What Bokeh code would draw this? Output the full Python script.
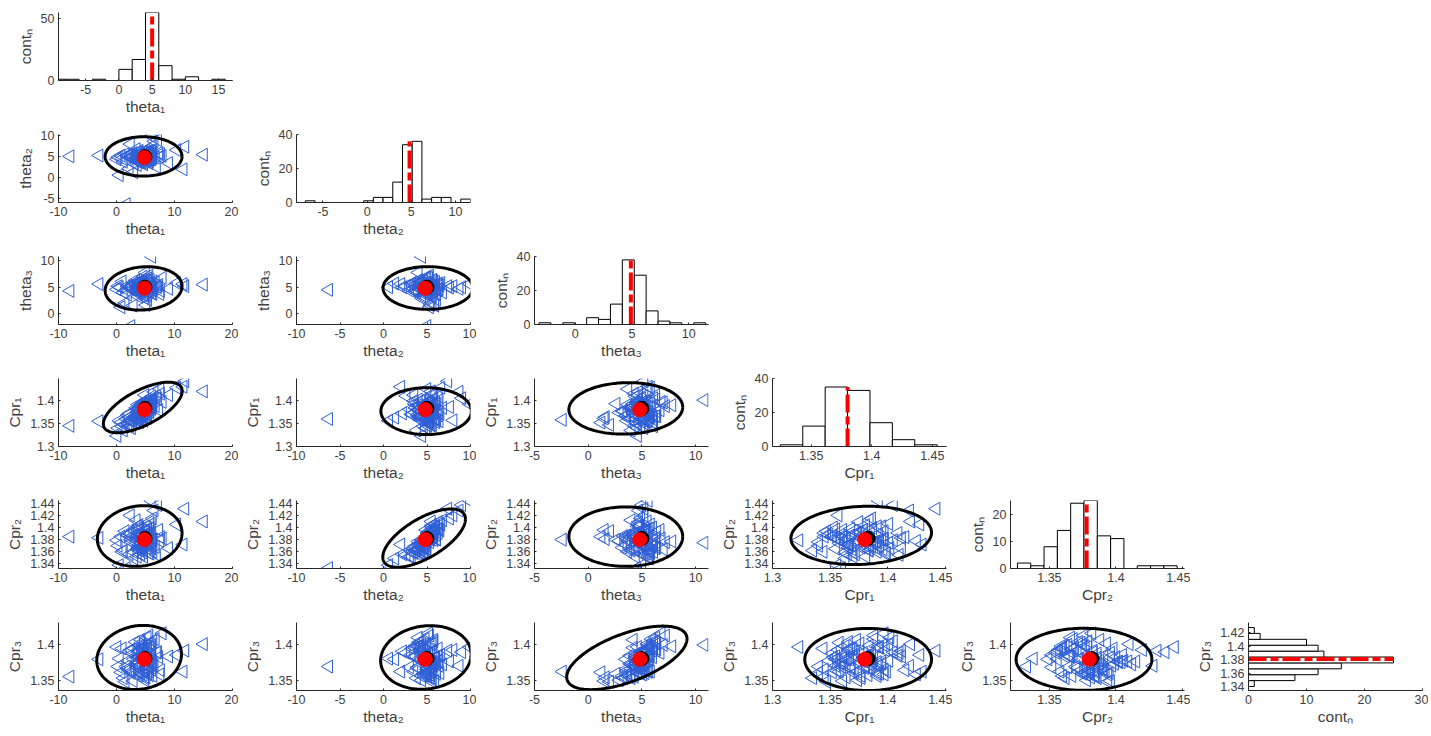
import numpy as np
from bokeh.plotting import figure
from bokeh.layouts import gridplot
from bokeh.models import Range1d, FixedTicker, CustomJSTickFormatter
from bokeh.embed import file_html
from bokeh.resources import INLINE

# ---------------- data ----------------
names = ["theta\u2081", "theta\u2082", "theta\u2083", "Cpr\u2081", "Cpr\u2082", "Cpr\u2083"]
count_label = "cont\u2099"

theta1 = [5.0, 4.4, 5.6, 3.9, 6.1, 4.7, 5.4, 4.2, 5.8, 3.7, 5.3, 4.9, 6.0, 4.0, 5.1, 4.6, 5.7, 4.3, 6.3, 3.6,
          5.4, 4.7, 5.8, 3.9, 5.0, 4.4, 5.6, 4.2, 6.1, 4.9, 5.3, 4.6, 5.7, 4.0, 6.3, 3.7, 6.0, 4.3, 5.1, 4.7,
          5.4, 4.4, 5.8, 3.6, 5.6, 4.2, 5.0, 3.9, 6.1, 4.9, 5.3, 4.6, 5.7, 4.0, 5.1,
          3.5, 2.8, 3.1, 2.3, 3.8, 2.5, 3.3, 2.0, 3.6, 2.9, 3.9, 2.2, 3.4, 2.6, 3.0, 3.7, 2.4,
          0.3, 1.7, 0.8, 1.2, 0.1, 1.5, 0.5, 1.9, 1.0,
          6.3, 7.1, 6.7, 7.6, 6.1, 7.3, 6.5, 7.9, 6.9, 6.2, 7.5, 6.0,
          -8.0, -3.0, 15.0, 11.8, 11.5, 10.4, 9.0]
theta2 = [5.3, 4.9, 5.8, 4.3, 5.0, 3.7, 6.3, 4.6, 5.7, 6.1, 4.0, 5.6, 4.4, 5.1, 6.0, 4.2, 5.4, 4.7, 5.8, 3.9,
          4.9, 6.1, 4.3, 5.6, 6.5, 3.6, 5.3, 4.0, 6.3, 4.4, 5.7, 5.0, 3.9, 6.0, 4.7, 5.4, 6.4, 4.2, 5.1, 3.2,
          6.1, 4.6, 5.6, 4.9, 3.5, 5.8, 4.0, 6.4, 5.0, 5.7, 4.4, 5.3, 6.3, 3.7, 5.4,
          4.8, 5.2, 3.3, 5.6, 4.4, 5.0, 4.1, 5.4, 3.0, 5.9, 4.6, 2.2, 6.8, 4.9, 1.3, 5.5, 8.0,
          4.9, -6.3, 5.3, 3.8, 4.4, 5.6, 0.6, 5.1, 4.6,
          5.4, 9.0, 4.8, 5.7, 4.4, 5.9, 8.7, 5.2, 2.6, 7.6, 5.0, 9.9,
          5.1, 5.3, 5.5, 7.4, 2.0, 6.6, 3.5]
theta3 = [4.7, 5.4, 4.2, 6.0, 5.1, 4.4, 5.7, 4.9, 6.4, 3.9, 6.3, 3.3, 5.3, 5.6, 4.6, 5.8, 4.0, 5.0, 6.1, 4.3,
          6.7, 3.6, 5.4, 4.7, 5.3, 4.2, 7.2, 5.7, 4.4, 2.9, 5.0, 7.0, 4.9, 6.0, 3.7, 5.1, 4.6, 6.1, 4.0, 5.6,
          2.6, 6.4, 5.3, 4.4, 5.8, 4.2, 7.8, 5.4, 3.9, 6.3, 3.5, 5.1, 4.7, 5.6, 1.6,
          5.1, 4.5, 5.8, 4.9, 3.2, -2.4, 6.3, 5.3, 4.4, 1.5, 5.6, 5.0, 4.0, 4.6, 5.7, 4.8, 5.2,
          5.2, 4.5, 1.2, 4.0, 4.6, 2.0, 5.0, 3.6, 6.1,
          4.5, 5.0, 5.9, 4.3, 10.8, 5.4, 4.7, 6.8, 5.2, 4.9, 3.7, 5.6,
          4.3, 5.6, 5.5, 5.2, 5.6, 5.8, 4.7]
cpr1 = [1.381, 1.372, 1.392, 1.366, 1.397, 1.384, 1.368, 1.391, 1.376, 1.359, 1.402, 1.377, 1.386, 1.374, 1.395,
        1.363, 1.383, 1.388, 1.405, 1.369, 1.379, 1.356, 1.398, 1.381, 1.371, 1.393, 1.388, 1.365, 1.409, 1.374,
        1.362, 1.396, 1.380, 1.353, 1.391, 1.376, 1.401, 1.358, 1.385, 1.370, 1.393, 1.366, 1.387, 1.361, 1.399,
        1.373, 1.390, 1.355, 1.382, 1.412, 1.367, 1.397, 1.375, 1.384, 1.364,
        1.364, 1.352, 1.370, 1.345, 1.377, 1.358, 1.366, 1.349, 1.381, 1.361, 1.355, 1.372, 1.384, 1.340, 1.363,
        1.391, 1.357,
        1.340, 1.360, 1.352, 1.335, 1.323, 1.347, 1.356, 1.368, 1.344,
        1.395, 1.405, 1.388, 1.415, 1.401, 1.379, 1.419, 1.397, 1.410, 1.386, 1.425, 1.392,
        1.345, 1.355, 1.420, 1.442, 1.430, 1.428, 1.412]
cpr2 = [1.382, 1.377, 1.389, 1.371, 1.380, 1.362, 1.398, 1.375, 1.393, 1.388, 1.366, 1.386, 1.368, 1.392, 1.402,
        1.359, 1.384, 1.373, 1.379, 1.364, 1.396, 1.381, 1.357, 1.404, 1.395, 1.369, 1.376, 1.356, 1.391, 1.378,
        1.385, 1.364, 1.371, 1.400, 1.360, 1.383, 1.406, 1.374, 1.390, 1.352, 1.380, 1.367, 1.399, 1.386, 1.358,
        1.388, 1.377, 1.397, 1.365, 1.383, 1.372, 1.394, 1.409, 1.362, 1.381,
        1.378, 1.386, 1.359, 1.391, 1.367, 1.380, 1.372, 1.388, 1.352, 1.396, 1.365, 1.356, 1.412, 1.376, 1.349,
        1.402, 1.420,
        1.370, 1.333, 1.385, 1.362, 1.379, 1.394, 1.338, 1.387, 1.360,
        1.380, 1.437, 1.368, 1.384, 1.375, 1.396, 1.428, 1.382, 1.355, 1.415, 1.378, 1.444,
        1.385, 1.383, 1.410, 1.431, 1.372, 1.405, 1.366]
cpr3 = [1.379, 1.385, 1.371, 1.392, 1.366, 1.384, 1.395, 1.360, 1.402, 1.374, 1.410, 1.354, 1.388, 1.363, 1.377,
        1.398, 1.358, 1.381, 1.405, 1.369, 1.389, 1.364, 1.393, 1.376, 1.361, 1.396, 1.413, 1.380, 1.385, 1.351,
        1.372, 1.400, 1.368, 1.383, 1.357, 1.390, 1.378, 1.403, 1.367, 1.386, 1.360, 1.394, 1.374, 1.382, 1.363,
        1.407, 1.398, 1.371, 1.385, 1.392, 1.380, 1.359, 1.377, 1.399, 1.355,
        1.374, 1.388, 1.395, 1.366, 1.357, 1.363, 1.404, 1.378, 1.369, 1.350, 1.384, 1.391, 1.373, 1.361, 1.380,
        1.376, 1.393,
        1.370, 1.370, 1.362, 1.354, 1.397, 1.349, 1.381, 1.367, 1.395,
        1.374, 1.390, 1.408, 1.365, 1.400, 1.383, 1.371, 1.416, 1.389, 1.377, 1.359, 1.397,
        1.356, 1.380, 1.401, 1.392, 1.363, 1.386, 1.384]
samples = [theta1, theta2, theta3, cpr1, cpr2, cpr3]

true_vals = [4.8, 4.8, 4.8, 1.38, 1.38, 1.38]
est_mean = [4.9, 5.0, 5.0, 1.383, 1.382, 1.381]

# histogram edges / counts
h1_edges = [-10, -8, -6, -4, -2, 0, 2, 4, 6, 8, 10, 12, 14, 16, 18]
h1_counts = [1, 1, 0, 1, 0, 9, 17, 55, 12, 1, 3, 0, 1, 0]
h2_edges = [-7.0, -5.9, -4.8, -3.7, -2.6, -1.5, -0.4, 0.7, 1.8, 2.9, 4.0, 5.1, 6.2, 7.3, 8.4, 9.5, 10.6, 11.7]
h2_counts = [1, 0, 0, 0, 0, 0, 1, 3, 3, 12, 34, 36, 2, 3, 3, 0, 2]
h3_edges = [-3.2, -2.15, -1.1, -0.05, 1.0, 2.05, 3.1, 4.15, 5.2, 6.25, 7.3, 8.35, 9.4, 10.45, 11.5]
h3_counts = [1, 0, 1, 0, 4, 3, 12, 38, 29, 8, 2, 1, 0, 1]
h4_edges = [1.3245, 1.343, 1.3615, 1.38, 1.3985, 1.417, 1.4355, 1.454]
h4_counts = [1, 12, 35, 33, 14, 4, 1]
h5_edges = [1.326, 1.336, 1.346, 1.356, 1.366, 1.376, 1.386, 1.396, 1.406, 1.416, 1.426, 1.436, 1.446]
h5_counts = [2, 1, 8, 14, 24, 25, 12, 11, 0, 1, 1, 1]
h6_edges = [1.3404, 1.3491, 1.3578, 1.3665, 1.3752, 1.3839, 1.3926, 1.4013, 1.41, 1.4187, 1.4274]
h6_counts = [1, 8, 12, 16, 25, 13, 12, 10, 2, 1]
hist_edges = [h1_edges, h2_edges, h3_edges, h4_edges, h5_edges, h6_edges]
hist_counts = [h1_counts, h2_counts, h3_counts, h4_counts, h5_counts, h6_counts]
hist_true = [5.0, 4.8, 4.9, 1.38, 1.378, 1.381]

# axes ranges / ticks
hist_xlim = [(-9.1, 17.1), (-8.0, 11.7), (-3.6, 11.75), (1.318, 1.4617), (1.3208, 1.4515)]
hist_ylim = [(0, 55), (0, 40), (0, 40), (0, 40), (0, 25)]
hist_xticks = [[-5, 0, 5, 10, 15], [-5, 0, 5, 10], [0, 5, 10], [1.35, 1.4, 1.45], [1.35, 1.4, 1.45]]
hist_yticks = [[0, 50], [0, 20, 40], [0, 20, 40], [0, 20, 40], [0, 10, 20]]
h6_xlim = (0, 30)
h6_ylim = (1.3345, 1.4348)
h6_xticks = [0, 10, 20, 30]
h6_yticks = [1.34, 1.36, 1.38, 1.4, 1.42]

sc_xlim = [(-10, 20), (-10, 10), (-5, 11.2), (1.3, 1.451), (1.3208, 1.4515)]
sc_xticks = [[-10, 0, 10, 20], [-10, -5, 0, 5, 10], [-5, 0, 5, 10], [1.3, 1.35, 1.4, 1.45], [1.35, 1.4, 1.45]]
sc_ylim = [None, (-5.9, 10.3), (-2.1, 10.85), (1.3, 1.448), (1.3325, 1.4445), (1.3368, 1.431)]
sc_yticks = [None, [-5, 0, 5, 10], [0, 5, 10], [1.3, 1.35, 1.4], [1.34, 1.36, 1.38, 1.4, 1.42, 1.44], [1.35, 1.4]]

# ellipse per panel (row, col): centre x, centre y, half-width, half-height, tilt correlation
ellipses = {
    (1, 0): (4.67, 5.08, 6.63, 4.68, 0.0),
    (2, 0): (4.67, 4.78, 6.63, 4.13, 0.1),
    (2, 1): (5.1, 4.85, 5.15, 4.07, 0.0),
    (3, 0): (4.53, 1.385, 6.8, 0.055, 0.65),
    (3, 1): (4.9, 1.377, 5.2, 0.051, 0.0),
    (3, 2): (3.5, 1.383, 5.3, 0.056, 0.05),
    (4, 0): (4.0, 1.386, 7.3, 0.05, 0.1),
    (4, 1): (4.67, 1.3826, 4.75, 0.048, 0.65),
    (4, 2): (3.5, 1.385, 5.3, 0.049, 0.0),
    (4, 3): (1.377, 1.387, 0.061, 0.048, 0.1),
    (5, 0): (3.9, 1.3826, 7.3, 0.0444, 0.1),
    (5, 1): (4.87, 1.3826, 5.2, 0.044, 0.1),
    (5, 2): (3.6, 1.382, 5.6, 0.044, 0.6),
    (5, 3): (1.383, 1.3798, 0.055, 0.043, 0.0),
    (5, 4): (1.376, 1.380, 0.051, 0.043, 0.0),
}

# ---------------- styling ----------------
FONT = "Liberation Sans"
AX = "#262626"
BLUE = "#2f5fd6"
FMT = CustomJSTickFormatter(code="return String(Math.round(tick*1000)/1000);")


def base_fig(xr, yr, xt, yt, xl, yl):
    p = figure(frame_width=174, frame_height=68,
               x_range=Range1d(*xr), y_range=Range1d(*yr),
               output_backend="svg", toolbar_location=None,
               min_border_left=58, min_border_right=6,
               min_border_top=12, min_border_bottom=42)
    p.title.visible = False
    p.outline_line_color = None
    p.grid.visible = False
    p.background_fill_color = "white"
    p.border_fill_color = "white"
    p.xaxis.ticker = FixedTicker(ticks=xt)
    p.yaxis.ticker = FixedTicker(ticks=yt)
    for ax in (p.xaxis[0], p.yaxis[0]):
        ax.formatter = FMT
        ax.axis_line_color = AX
        ax.major_tick_line_color = AX
        ax.major_tick_in = 2
        ax.major_tick_out = 0
        ax.minor_tick_line_color = None
        ax.major_label_text_font = FONT
        ax.major_label_text_font_size = "12.5px"
        ax.major_label_text_color = "#404040"
        ax.axis_label_text_font = FONT
        ax.axis_label_text_font_size = "15.5px"
        ax.axis_label_text_font_style = "normal"
        ax.axis_label_text_color = "#404040"
        ax.major_label_standoff = 4
    p.xaxis.axis_label = xl
    p.yaxis.axis_label = yl
    p.xaxis.axis_label_standoff = 1
    p.yaxis.axis_label_standoff = 4
    return p


n = 6
grid = [[None] * n for _ in range(n)]

for i in range(n):
    for j in range(i + 1):
        if i == j and i < 5:
            p = base_fig(hist_xlim[i], hist_ylim[i], hist_xticks[i], hist_yticks[i], names[i], count_label)
            e = hist_edges[i]
            c = hist_counts[i]
            p.quad(left=e[:-1], right=e[1:], bottom=0, top=c,
                   fill_color="white", line_color="black", line_width=1)
            p.line(x=[hist_true[i], hist_true[i]], y=[0, max(c)], line_color="red",
                   line_width=4, line_dash="18 4 8 4")
        elif i == j:
            p = base_fig(h6_xlim, h6_ylim, h6_xticks, h6_yticks, count_label, names[i])
            e = hist_edges[i]
            c = hist_counts[i]
            p.quad(left=0, right=c, bottom=e[:-1], top=e[1:],
                   fill_color="white", line_color="black", line_width=1)
            p.line(x=[0, max(c)], y=[hist_true[i], hist_true[i]], line_color="red",
                   line_width=4, line_dash="18 4 8 4")
        else:
            p = base_fig(sc_xlim[j], sc_ylim[i], sc_xticks[j], sc_yticks[i], names[j], names[i])
            p.scatter(x=samples[j], y=samples[i], marker="triangle", angle=np.pi / 2,
                      size=13, fill_color=None, line_color=BLUE, line_width=1)
            cx, cy, rx, ry, rho = ellipses[(i, j)]
            t = np.linspace(0, 2 * np.pi, 200)
            ex = cx + rx * np.cos(t)
            ey = cy + ry * (rho * np.cos(t) + np.sqrt(1 - rho ** 2) * np.sin(t))
            p.line(x=ex, y=ey, line_color="black", line_width=3)
            p.scatter(x=[est_mean[j]], y=[est_mean[i]], marker="circle", size=14,
                      fill_color="black", line_color="black")
            p.scatter(x=[true_vals[j]], y=[true_vals[i]], marker="circle", size=14,
                      fill_color="red", line_color="red")
        grid[i][j] = p

layout = gridplot(grid, toolbar_location=None)
open("out.html", "w").write(file_html(layout, INLINE))
